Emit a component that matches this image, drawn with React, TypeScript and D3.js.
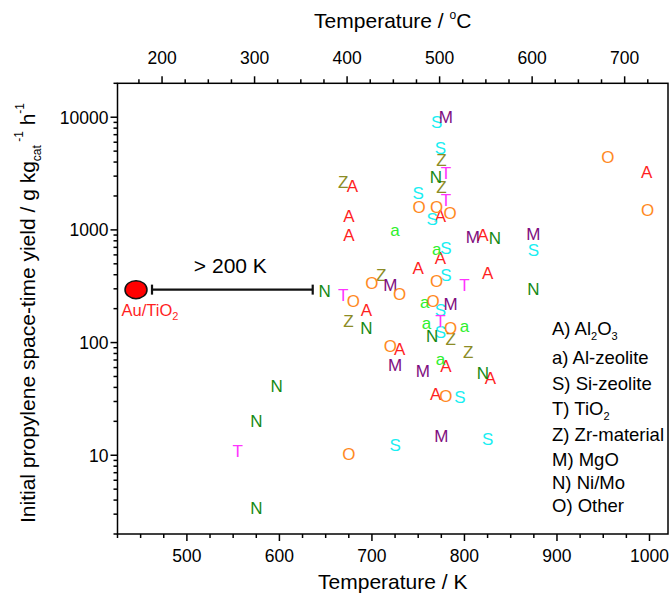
import React from "react";
import * as d3 from "d3";

// [temperature K, yield g kg_cat^-1 h^-1]
const alumina: [number, number][] = [
  [679, 2460], [675, 1340], [675, 906], [774, 1340], [820, 906], [997, 3300],
  [774, 564], [750, 460], [825, 415], [694, 196], [730, 88], [780, 62],
  [828, 49], [769, 35.4],
];
const alZeolite: [number, number][] = [
  [725, 1000], [770, 678], [757, 228], [759, 150], [800, 142], [774, 72],
];
const siZeolite: [number, number][] = [
  [770, 9150], [774, 5300], [750, 2150], [765, 1250], [780, 692], [780, 401],
  [874.5, 668], [774, 196], [774, 124], [795, 33], [725, 12.3], [825, 14.1],
];
const titania: [number, number][] = [
  [780, 3190], [780, 1850], [800, 327], [669, 267], [774, 155], [555, 10.9],
];
const zrMaterial: [number, number][] = [
  [775, 4190], [775, 2400], [669, 2690], [710, 401], [674.5, 155], [785, 108], [804, 82],
];
const mgo: [number, number][] = [
  [780, 10100], [809, 875], [874.5, 920], [720, 327], [785, 222], [725, 64],
  [755, 56], [775, 14.8],
];
const niMo: [number, number][] = [
  [769, 2940], [833, 853], [874.5, 300], [649, 285], [694, 135], [765, 114],
  [820, 54], [597, 41], [575, 20.1], [575, 3.44],
];
const other: [number, number][] = [
  [751, 1610], [770, 1610], [784.5, 1410], [955, 4480], [998, 1510], [770, 350],
  [700, 339], [680, 233], [730, 270], [766, 233], [785, 135], [720, 94],
  [780, 33.5], [675, 10.2],
];

const auTiO2: [number, number] = [445, 295];
const auBarEnd = 636;

const kTicks = [500, 600, 700, 800, 900, 1000];
const cTicks = [200, 300, 400, 500, 600, 700];
const yTicks = [10, 100, 1000, 10000];

const series = [
  { letter: "A", color: "#ff1f1f", data: alumina },
  { letter: "a", color: "#2ef02e", data: alZeolite },
  { letter: "S", color: "#19eef2", data: siZeolite },
  { letter: "T", color: "#ff33ff", data: titania },
  { letter: "Z", color: "#8c8c26", data: zrMaterial },
  { letter: "M", color: "#800d80", data: mgo },
  { letter: "N", color: "#158a15", data: niMo },
  { letter: "O", color: "#ff8a1f", data: other },
];

const FONT = "Arial, 'Liberation Sans', Helvetica, sans-serif";

export default function App() {
  const W = 672, H = 596;
  const left = 117.5, right = 668, top = 83.3, bottom = 534;
  const x = d3.scaleLinear().domain([425, 1020]).range([left, right]);
  const y = d3.scaleLog().domain([2, 20000]).range([bottom, top]);

  const kMinor = d3.range(425, 1020.1, 25).filter((v) => !kTicks.includes(v));
  const cMinor = d3.range(175, 746, 25).filter((v) => !cTicks.includes(v));
  const yMinor: number[] = [];
  [1, 10, 100, 1000, 10000].forEach((dec) => {
    for (let m = 2; m <= 9; m++) {
      const v = m * dec;
      if (v >= 2 && v <= 20000) yMinor.push(v);
    }
  });

  const sw = 1.5;
  const ax = x(auTiO2[0]);
  const ay = y(auTiO2[1]);
  const barStart = ax + 16;
  const barEnd = x(auBarEnd);

  return (
    <svg width={W} height={H} style={{ position: "absolute", left: 0, top: 0, background: "#fff" }} fontFamily={FONT}>
      <rect x={0} y={0} width={W} height={H} fill="#fff" />
      {/* frame */}
      <rect x={left} y={top} width={right - left} height={bottom - top} fill="none" stroke="#000" strokeWidth={sw} />

      {/* bottom axis */}
      {kTicks.map((t) => (
        <g key={"kb" + t}>
          <line x1={x(t)} x2={x(t)} y1={bottom} y2={bottom + 7} stroke="#000" strokeWidth={sw} />
          <text x={x(t)} y={bottom + 28} fontSize={17.5} textAnchor="middle">{t}</text>
        </g>
      ))}
      {kMinor.map((t) => (
        <line key={"km" + t} x1={x(t)} x2={x(t)} y1={bottom} y2={bottom + 4} stroke="#000" strokeWidth={sw} />
      ))}
      <text x={(left + right) / 2} y={589} fontSize={21} textAnchor="middle">Temperature / K</text>

      {/* top axis (Celsius) */}
      {cTicks.map((t) => (
        <g key={"ct" + t}>
          <line x1={x(t + 273.15)} x2={x(t + 273.15)} y1={top} y2={top - 7} stroke="#000" strokeWidth={sw} />
          <text x={x(t + 273.15)} y={top - 19} fontSize={17.5} textAnchor="middle">{t}</text>
        </g>
      ))}
      {cMinor.map((t) => (
        <line key={"cm" + t} x1={x(t + 273.15)} x2={x(t + 273.15)} y1={top} y2={top - 4} stroke="#000" strokeWidth={sw} />
      ))}
      <text x={(left + right) / 2} y={28} fontSize={21} textAnchor="middle">
        Temperature / <tspan fontSize={12} dy={-9}>o</tspan><tspan dy={9}>C</tspan>
      </text>

      {/* left axis */}
      {yTicks.map((t) => (
        <g key={"yt" + t}>
          <line x1={left} x2={left - 7} y1={y(t)} y2={y(t)} stroke="#000" strokeWidth={sw} />
          <text x={left - 9} y={y(t) + 6.5} fontSize={17.5} textAnchor="end">{t}</text>
        </g>
      ))}
      {yMinor.map((t) => (
        <line key={"ym" + t} x1={left} x2={left - 4} y1={y(t)} y2={y(t)} stroke="#000" strokeWidth={sw} />
      ))}
      <text transform={`translate(35, 313) rotate(-90)`} fontSize={21} textAnchor="middle">
        Initial propylene space-time yield / g kg<tspan fontSize={12} dy={6}>cat</tspan>
        <tspan fontSize={12} dy={-18}> -1</tspan><tspan dy={12}> h</tspan>
        <tspan fontSize={12} dy={-11}>-1</tspan>
      </text>

      {/* letter markers */}
      {series.map((s) =>
        s.data.map((d, i) => (
          <text key={s.letter + i} x={x(d[0])} y={y(d[1])} dy="0.36em" fontSize={17} textAnchor="middle" fill={s.color}>
            {s.letter}
          </text>
        ))
      )}

      {/* Au/TiO2 */}
      <line x1={barStart} x2={barEnd} y1={ay} y2={ay} stroke="#111" strokeWidth={2.2} />
      <line x1={barStart} x2={barStart} y1={ay - 5} y2={ay + 5} stroke="#111" strokeWidth={2.2} />
      <line x1={barEnd} x2={barEnd} y1={ay - 5} y2={ay + 5} stroke="#111" strokeWidth={2.2} />
      <ellipse cx={ax} cy={ay} rx={11} ry={9} fill="#ff0000" stroke="#111" strokeWidth={1.5} />
      <text x={(ax + barEnd) / 2 + 6} y={ay - 17} fontSize={21} textAnchor="middle">&gt; 200 K</text>
      <text x={ax + 14} y={ay + 26} fontSize={16.5} textAnchor="middle" fill="#ff1f1f">
        Au/TiO<tspan fontSize={11} dy={4}>2</tspan>
      </text>

      {/* legend */}
      <g fontSize={18.5}>
        <text x={552} y={335}>A) Al<tspan fontSize={11} dy={5}>2</tspan><tspan dy={-5}>O</tspan><tspan fontSize={11} dy={5}>3</tspan></text>
        <text x={552} y={364}>a) Al-zeolite</text>
        <text x={552} y={390}>S) Si-zeolite</text>
        <text x={552} y={415}>T) TiO<tspan fontSize={11} dy={5}>2</tspan></text>
        <text x={552} y={441}>Z) Zr-material</text>
        <text x={552} y={466}>M) MgO</text>
        <text x={552} y={489}>N) Ni/Mo</text>
        <text x={552} y={512}>O) Other</text>
      </g>
    </svg>
  );
}
